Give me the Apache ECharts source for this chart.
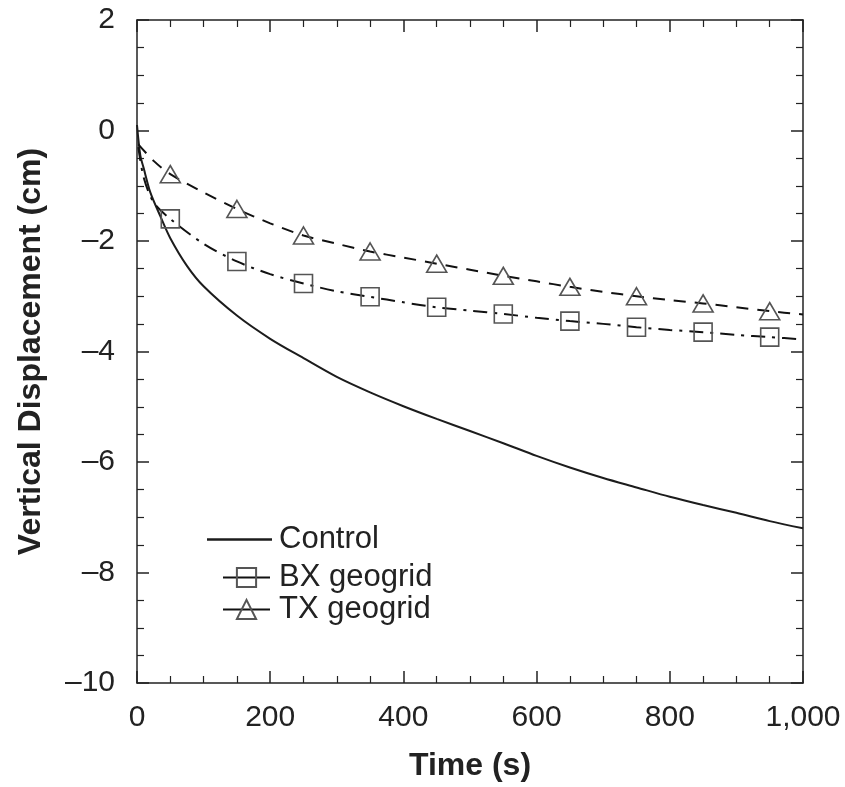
<!DOCTYPE html>
<html>
<head>
<meta charset="utf-8">
<script src="https://cdn.jsdelivr.net/npm/echarts@6/dist/echarts.min.js"></script>
<style>html,body{margin:0;padding:0;background:#fff;}#c{width:845px;height:787px;}</style>
</head>
<body>
<div id="c"></div>
<script>
// ---- data ----
const controlT = [0, 5, 10, 20, 35, 50, 75, 100, 150, 200, 250, 300, 350, 400, 450, 500, 550, 600, 650, 700, 750, 800, 850, 900, 950, 1000];
const controlY = [0.1, -0.45, -0.68, -1.12, -1.55, -1.95, -2.45, -2.82, -3.35, -3.77, -4.12, -4.46, -4.74, -4.99, -5.22, -5.44, -5.66, -5.89, -6.1, -6.29, -6.46, -6.63, -6.78, -6.92, -7.07, -7.2];

const bxT = [2, 10, 25, 50, 100, 150, 200, 250, 300, 350, 400, 450, 500, 550, 600, 650, 700, 750, 800, 850, 900, 950, 1000];
const bxY = [-0.3, -0.85, -1.3, -1.6, -2.05, -2.37, -2.6, -2.77, -2.91, -3.01, -3.11, -3.2, -3.26, -3.32, -3.39, -3.45, -3.5, -3.56, -3.61, -3.65, -3.7, -3.74, -3.78];

const txT = [2, 25, 50, 100, 150, 200, 250, 300, 350, 400, 450, 500, 550, 600, 650, 700, 750, 800, 850, 900, 950, 1000];
const txY = [-0.25, -0.55, -0.79, -1.12, -1.42, -1.68, -1.9, -2.05, -2.19, -2.3, -2.41, -2.52, -2.63, -2.73, -2.83, -2.92, -3.0, -3.07, -3.13, -3.2, -3.27, -3.33];

const markerT = [50, 150, 250, 350, 450, 550, 650, 750, 850, 950];

const xTickLabels = {0: '0', 200: '200', 400: '400', 600: '600', 800: '800', 1000: '1,000'};
const seriesNames = ['Control', 'BX geogrid', 'TX geogrid'];

// ---- chart ----
const FONT = 'Liberation Sans, Arial, Helvetica, sans-serif';
function withMarkers(ts, ys, sym) {
  return ts.map((t, i) => ({value: [t, ys[i]], symbol: markerT.includes(t) ? sym : 'none'}));
}
const tickCommon = {show: true, inside: true, length: 12, lineStyle: {color: '#222', width: 1.5}};
const minorCommon = {show: true, splitNumber: 4, length: 7, lineStyle: {color: '#222', width: 1.2}};
const lineCommon = {show: true, onZero: false, lineStyle: {color: '#222', width: 1.5}};
const legendText = {fontFamily: FONT, fontSize: 31, color: '#222', lineHeight: 30};

const chart = echarts.init(document.getElementById('c'));
chart.setOption({
  animation: false,
  backgroundColor: '#fff',
  grid: {left: 137, right: 42, top: 20, bottom: 101, containLabel: false},
  legend: [
    {
      data: [{name: seriesNames[0], icon: 'rect'}],
      left: 202, top: 519, orient: 'vertical',
      itemWidth: 65, itemHeight: 2.5, itemGap: 8,
      itemStyle: {color: '#1c1c1c'},
      textStyle: Object.assign({padding: [0, 0, 0, 2]}, legendText)
    },
    {
      data: [seriesNames[1], seriesNames[2]],
      left: 217, top: 557, orient: 'vertical',
      itemWidth: 47, itemHeight: 24, itemGap: 1,
      lineStyle: {type: 'solid', width: 2, color: '#111'},
      textStyle: Object.assign({padding: [0, 0, 0, 4]}, legendText)
    }
  ],
  xAxis: [
    {
      type: 'value', min: 0, max: 1000, interval: 200, position: 'bottom',
      name: 'Time (s)', nameLocation: 'middle', nameGap: 67,
      nameTextStyle: {fontFamily: FONT, fontSize: 32, fontWeight: 'bold', color: '#222'},
      axisLine: lineCommon, axisTick: tickCommon, minorTick: minorCommon,
      splitLine: {show: false},
      axisLabel: {fontFamily: FONT, fontSize: 30, color: '#222', margin: 20,
        formatter: v => xTickLabels[v] !== undefined ? xTickLabels[v] : ''}
    },
    {
      type: 'value', min: 0, max: 1000, interval: 200, position: 'top',
      axisLine: lineCommon, axisTick: tickCommon, minorTick: minorCommon,
      splitLine: {show: false}, axisLabel: {show: false}
    }
  ],
  yAxis: [
    {
      type: 'value', min: -10, max: 2, interval: 2, position: 'left',
      name: 'Vertical Displacement (cm)', nameLocation: 'middle', nameGap: 90,
      nameTextStyle: {fontFamily: FONT, fontSize: 32, fontWeight: 'bold', color: '#222'},
      axisLine: lineCommon, axisTick: tickCommon, minorTick: minorCommon,
      splitLine: {show: false},
      axisLabel: {fontFamily: FONT, fontSize: 30, color: '#222', margin: 22,
        formatter: v => (v < 0 ? '\u2013' + Math.abs(v) : String(v))}
    },
    {
      type: 'value', min: -10, max: 2, interval: 2, position: 'right',
      axisLine: lineCommon, axisTick: tickCommon, minorTick: minorCommon,
      splitLine: {show: false}, axisLabel: {show: false}
    }
  ],
  series: [
    {
      name: seriesNames[0], type: 'line', smooth: 0.3, symbol: 'none', showSymbol: false,
      data: controlT.map((t, i) => [t, controlY[i]]),
      lineStyle: {color: '#1c1c1c', width: 2},
      itemStyle: {color: '#1c1c1c'},
      z: 2
    },
    {
      name: seriesNames[1], type: 'line', smooth: 0.3, symbol: 'rect', symbolSize: 18,
      showSymbol: true, showAllSymbol: true,
      data: withMarkers(bxT, bxY, 'rect'),
      lineStyle: {color: '#111', width: 2, type: [14, 7, 3, 7]},
      itemStyle: {color: 'rgba(255,255,255,0)', borderColor: '#555', borderWidth: 1.6},
      z: 3
    },
    {
      name: seriesNames[2], type: 'line', smooth: 0.3, symbol: 'triangle', symbolSize: [20, 17],
      showSymbol: true, showAllSymbol: true,
      data: withMarkers(txT, txY, 'triangle'),
      lineStyle: {color: '#111', width: 2, type: [12, 9]},
      itemStyle: {color: 'rgba(255,255,255,0)', borderColor: '#555', borderWidth: 1.6},
      z: 3
    }
  ]
});
</script>
</body>
</html>
